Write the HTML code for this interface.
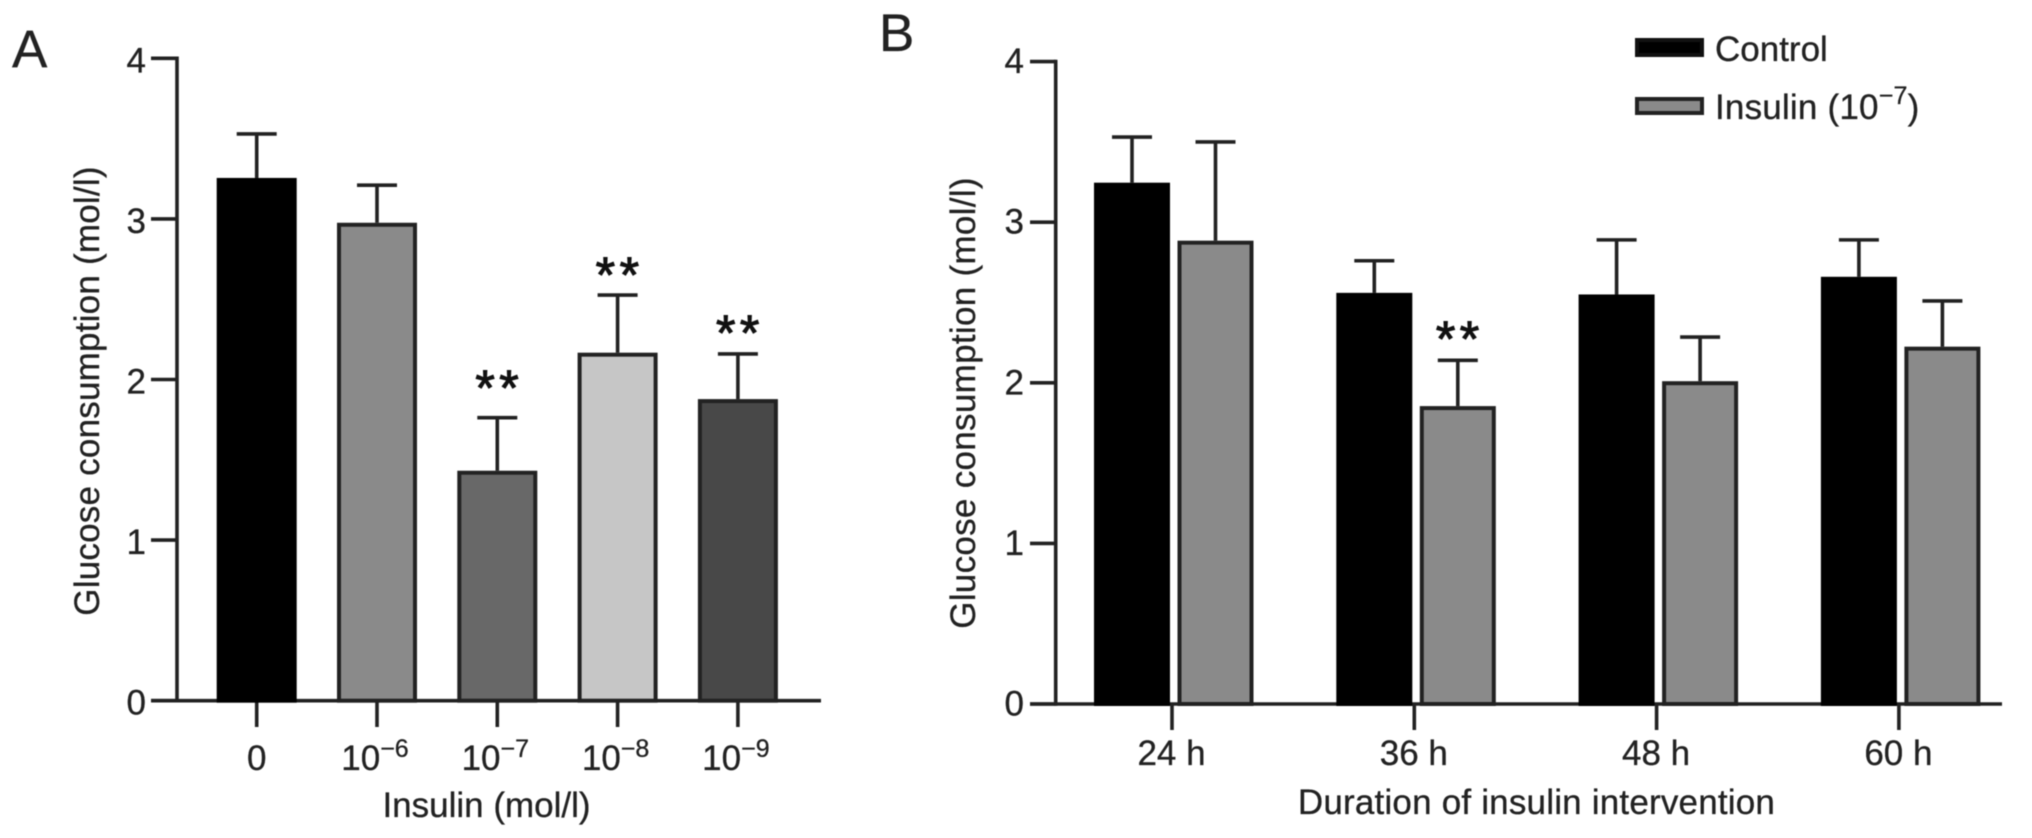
<!DOCTYPE html>
<html lang="en">
<head>
<meta charset="utf-8">
<title>Glucose consumption charts</title>
<style>
html,body{margin:0;padding:0;background:#fff;width:2032px;height:838px;overflow:hidden}
svg{display:block;filter:blur(0.6px)}
text{font-family:"Liberation Sans",sans-serif;fill:#222;font-size:35px;stroke:#222;stroke-width:0.3px}
</style>
</head>
<body>
<svg id="chart" xmlns="http://www.w3.org/2000/svg" width="2032" height="838" viewBox="0 0 2032 838">
<rect width="2032" height="838" fill="#fff"/>
</svg>
<script>
const yTickLabels = ["0", "1", "2", "3", "4"];

const aCategories = [["0", ""], ["10", "\u22126"], ["10", "\u22127"], ["10", "\u22128"], ["10", "\u22129"]];
const aMeans = [3.255, 2.976, 1.432, 2.167, 1.878];
const aErrorTops = [3.529, 3.21, 1.762, 2.526, 2.159];
const aFills = ["#000000", "#8a8a8a", "#686868", "#c6c6c6", "#484848"];
const aStarLevels = [null, null, 1.984, 2.688, 2.327];

const bCategories = ["24 h", "36 h", "48 h", "60 h"];
const bControlMeans = [3.246, 2.56, 2.55, 2.66];
const bControlErrorTops = [3.53, 2.76, 2.89, 2.89];
const bInsulinMeans = [2.885, 1.855, 2.01, 2.225];
const bInsulinErrorTops = [3.5, 2.14, 2.285, 2.51];
const bStarLevels = [null, 2.31, null, null];

const svg = document.getElementById('chart');
const NS = 'http://www.w3.org/2000/svg';
const INK = '#222';

function make(tag, props, parent) {
  const el = document.createElementNS(NS, tag);
  for (const k in props) el.setAttribute(k, props[k]);
  (parent || svg).appendChild(el);
  return el;
}
function seg(parent, x1, y1, x2, y2, name, w) {
  const el = make('line', {x1: x1, y1: y1, x2: x2, y2: y2, stroke: INK, 'stroke-width': w || 3.6}, parent);
  
  
  return el;
}
function label(parent, x, y, str, name, anchor, size) {
  const el = make('text', {x: x, y: y, 'text-anchor': anchor || 'middle'}, parent);
  if (size) el.style.fontSize = size + 'px';
  el.textContent = str;
  
  
  return el;
}
function group(name) {
  const g = make('g', {});
  
  
  return g;
}
function addSup(el, str, dy) {
  const t = make('tspan', {dy: dy}, el);
  t.style.fontSize = '25px';
  t.textContent = str;
}
function bar(parent, cx, w, value, errTop, fill, yScale, base, name) {
  const top = yScale(value), capY = yScale(errTop);
  seg(parent, cx, capY, cx, top, name + '-error-stem');
  seg(parent, cx - 20, capY, cx + 20, capY, name + '-error-cap');
  const r = make('rect', {x: cx - w / 2 + 2, y: top + 2, width: w - 4, height: base - top - 2, fill: fill, stroke: fill === '#000000' ? '#000' : INK, 'stroke-width': 4}, parent);
  
  
}
function stars(parent, cx, level, yScale, name) {
  const el = label(parent, cx + 2, yScale(level) + 23, '**', name, 'middle', 50);
  el.style.letterSpacing = '4.5px';
  el.style.fill = '#111';
  el.style.stroke = '#111';
  el.style.strokeWidth = '1.1px';
}
function yAxis(parent, axisX, baseY, yScale, right, tickLeft, labelRight, labelDy) {
  seg(parent, axisX, yScale(4) - 1.8, axisX, baseY + 1.8, 'y-axis-line');
  seg(parent, tickLeft, baseY, right, baseY, 'x-axis-line');
  yTickLabels.forEach(function (t, i) {
    const y = yScale(Number(t));
    seg(parent, tickLeft, y, axisX, y, 'y-tick');
    label(parent, labelRight, y + labelDy, t, 'y-tick-label', 'end');
  });
}

/* Panel A */
const aX0 = 256.7, aStep = 120.3, aBase = 700.7, aUnit = 160.6;
const aXScale = function (i) { return aX0 + aStep * i; };
const aYScale = function (v) { return aBase - aUnit * v; };
const panelA = group('panel-a');
label(panelA, 12, 67, 'A', 'panel-a-label', 'start', 53);
yAxis(panelA, 177, aBase, aYScale, 821, 151, 146, 14);
aCategories.forEach(function (c, i) {
  const x = aXScale(i);
  seg(panelA, x, aBase, x, 727, 'x-tick');
  const t = label(panelA, c[1] ? x - 2 : x, 770, c[0], 'x-tick-label');
  if (c[1]) addSup(t, c[1], -13);
  bar(panelA, x, 80, aMeans[i], aErrorTops[i], aFills[i], aYScale, aBase, 'bar-a-' + i);
  if (aStarLevels[i] !== null) stars(panelA, x, aStarLevels[i], aYScale, 'significance-a-' + i);
});
label(panelA, 486.5, 817, 'Insulin (mol/l)', 'x-axis-title');
const aTitle = label(panelA, 0, 0, 'Glucose consumption (mol/l)', 'y-axis-title');
aTitle.setAttribute('transform', 'translate(99 391) rotate(-90)');
aTitle.style.letterSpacing = '0.22px';

/* Panel B */
const bX0 = 1172, bStep = 242.3, bBase = 704, bUnit = 160.6;
const bXScale = function (i) { return bX0 + bStep * i; };
const bYScale = function (v) { return bBase - bUnit * v; };
const panelB = group('panel-b');
label(panelB, 879, 51, 'B', 'panel-b-label', 'start', 53);
yAxis(panelB, 1055.7, bBase, bYScale, 2002, 1030, 1024, 11.5);
bCategories.forEach(function (c, i) {
  const x = bXScale(i);
  seg(panelB, x, bBase, x, 730, 'x-tick');
  label(panelB, x - 0.5, 765, c, 'x-tick-label');
  bar(panelB, x - 40, 76, bControlMeans[i], bControlErrorTops[i], '#000000', bYScale, bBase, 'bar-control-' + i);
  bar(panelB, x + 43.5, 76, bInsulinMeans[i], bInsulinErrorTops[i], '#8a8a8a', bYScale, bBase, 'bar-insulin-' + i);
  if (bStarLevels[i] !== null) stars(panelB, x + 43.5, bStarLevels[i], bYScale, 'significance-b-' + i);
});
const bXTitle = label(panelB, 1536.5, 814, 'Duration of insulin intervention', 'x-axis-title');
bXTitle.style.letterSpacing = '0.2px';
const bTitle = label(panelB, 0, 0, 'Glucose consumption (mol/l)', 'y-axis-title');
bTitle.setAttribute('transform', 'translate(975 403) rotate(-90)');
bTitle.style.letterSpacing = '0.3px';

/* Legend */
const legend = group('legend');
const swatch1 = make('rect', {x: 1637, y: 40, width: 65, height: 15, fill: '#000', stroke: '#111', 'stroke-width': 4}, legend);


label(legend, 1715, 61, 'Control', 'legend-entry-control', 'start');
const swatch2 = make('rect', {x: 1637, y: 99, width: 65, height: 14, fill: '#8a8a8a', stroke: INK, 'stroke-width': 4}, legend);


const legendText = label(legend, 1715, 119, 'Insulin (10', 'legend-entry-insulin', 'start');
legendText.style.letterSpacing = '0.2px';
addSup(legendText, '\u22127', -15);
const closeParen = make('tspan', {dy: 15}, legendText);
closeParen.textContent = ')';
</script>
</body>
</html>
